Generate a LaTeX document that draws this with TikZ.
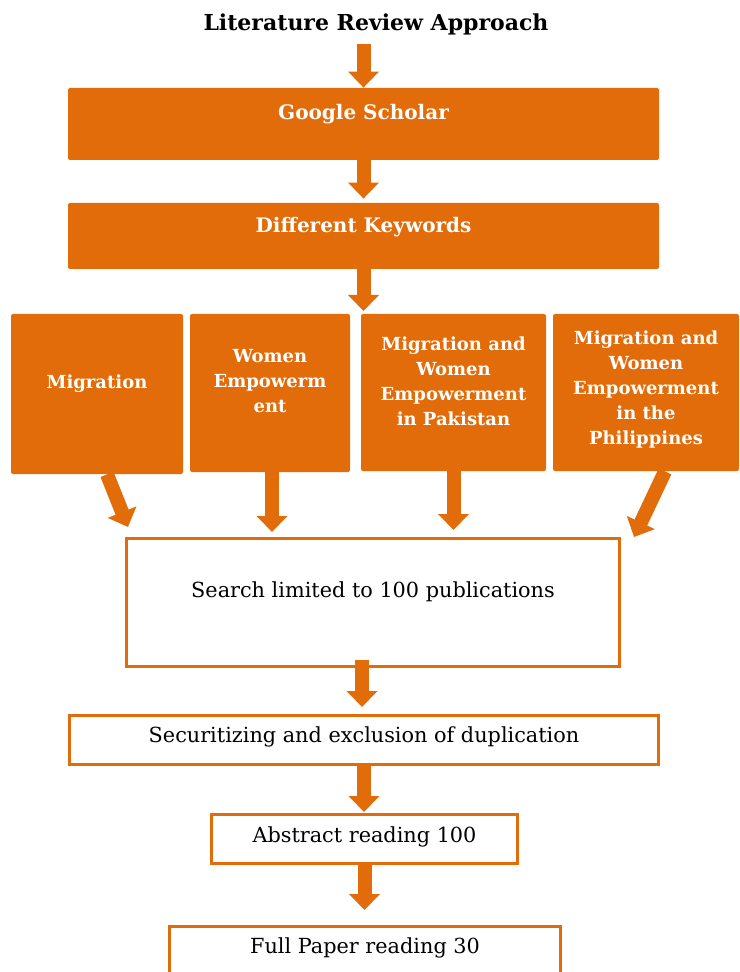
\documentclass[tikz,border=0pt]{standalone}
\usepackage{fontspec}
\setmainfont{DejaVu Serif}
\usepackage{tikz}
\usetikzlibrary{arrows.meta,calc}
\definecolor{revorange}{HTML}{E36C0A}
\tikzset{
  fullbox/.style={rectangle,fill=revorange,text=white,rounded corners=1pt,align=center,inner sep=0pt,
    font=\bfseries\fontsize{9}{12.5}\selectfont},
  linebox/.style={rectangle,draw=revorange,line width=1.5pt,fill=white,align=center,inner sep=0pt,
    font=\fontsize{10.4}{12}\selectfont},
  blockarrow/.style={draw=revorange,line width=7pt,-{Triangle[width=15pt,length=8pt]}}
}

\begin{document}
\begin{tikzpicture}[x=0.5pt,y=-0.5pt]
  \useasboundingbox (0,0) rectangle (739,972);
  \node[font=\bfseries\fontsize{11}{13}\selectfont] (title) at (376,24) {Literature Review Approach};
  \node[fullbox,font=\bfseries\fontsize{10}{12}\selectfont,minimum width=295.5pt,minimum height=36pt,text depth=12pt]
  (scholar) at (363.5,124) {Google Scholar};
  \node[fullbox,font=\bfseries\fontsize{10}{12}\selectfont,minimum width=295.5pt,minimum height=33pt,text depth=11pt]
  (keywords) at (363.5,236) {Different Keywords};
  % Schlagworte
  \node[fullbox,minimum width=86pt,minimum height=80pt,text depth=12pt] (mig) at (97,394) {Migration};
  \node[fullbox,minimum width=80pt,minimum height=79pt,text depth=12pt] (women) at (270,393) {Women\\Empowerm\\ent};
  \node[fullbox,minimum width=92.5pt,minimum height=78.5pt,text depth=11pt] (pak) at (453.5,392.5)
  {Migration and\\Women\\Empowerment\\in Pakistan};
  \node[fullbox,minimum width=93pt,minimum height=78.5pt,text depth=5pt] (phil) at (646,392.5)
  {Migration and\\Women\\Empowerment\\in the\\Philippines};
  % Auswahl
  \node[linebox,minimum width=246.5pt,minimum height=64pt,text depth=13pt] (search) at (373,602.5)
  {Search limited to 100 publications};
  \node[linebox,minimum width=294.5pt,minimum height=24.5pt,text depth=5pt] (dup) at (364,740)
  {Securitizing and exclusion of duplication};
  \node[linebox,minimum width=153pt,minimum height=24.5pt,text depth=4pt] (abstract) at (364.5,839)
  {Abstract reading 100};
  \node[linebox,minimum width=195.5pt,minimum height=24.5pt,text depth=5pt] (fullpaper) at (365,951)
  {Full Paper reading 30};
  \coordinate (fan) at (363,311);

  \draw[blockarrow,shorten <=1pt] (scholar.north |- title.south) -- (scholar.north);
  \draw[blockarrow] (scholar.south) -- ([yshift=2pt]keywords.north);
  \draw[blockarrow] (keywords.south) -- (keywords.south |- fan);
  \draw[blockarrow] ([xshift=5pt]mig.south) -- ([xshift=-122.5pt,yshift=5pt]search.north);
  \draw[blockarrow] ([xshift=1pt]women.south) -- ([xshift=-50.5pt,yshift=2.5pt]search.north);
  \draw[blockarrow] (pak.south) -- ([xshift=40.25pt,yshift=3.5pt]search.north);
  \draw[blockarrow] ([xshift=9.5pt]phil.south) -- ([xshift=130.5pt]search.north);
  \draw[blockarrow] ([xshift=-5.5pt,yshift=4pt]search.south) -- ([xshift=-1pt,yshift=3.5pt]dup.north);
  \draw[blockarrow] ([yshift=1.5pt]dup.south) -- ([yshift=0.5pt]dup.south |- abstract.north);
  \draw[blockarrow] ([yshift=1pt]abstract.south) -- ([yshift=7.5pt]abstract.south |- fullpaper.north);
\end{tikzpicture}
\end{document}
